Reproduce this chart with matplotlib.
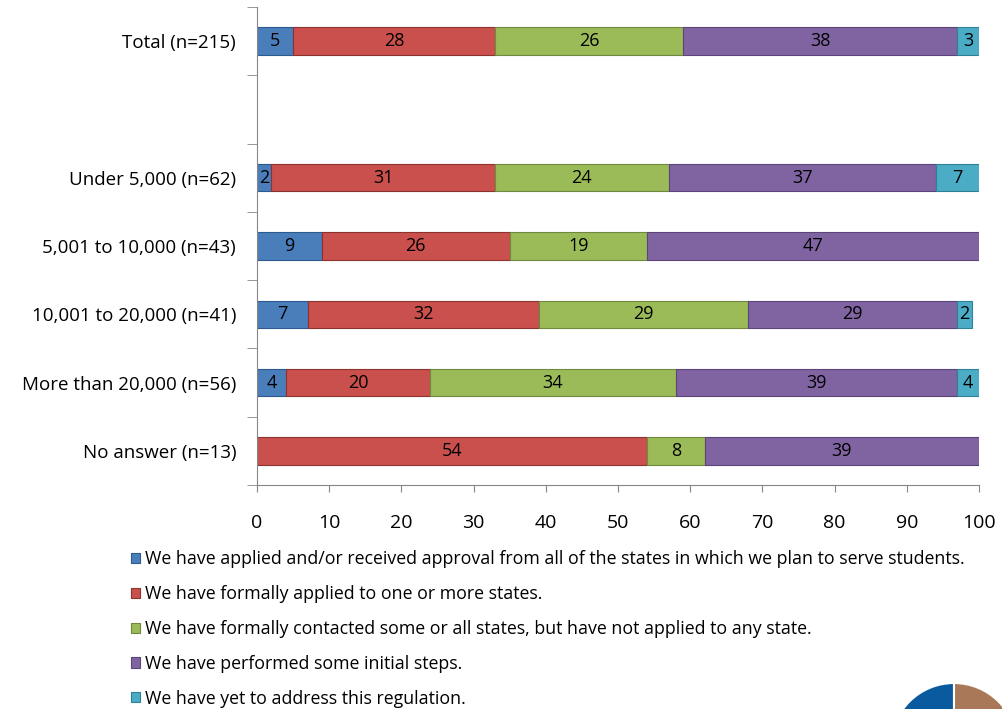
import numpy as np
import matplotlib.pyplot as plt
from matplotlib.patches import Wedge, Patch

plt.rcParams['font.family'] = ['Open Sans', 'DejaVu Sans']

categories = ['Total (n=215)', '', 'Under 5,000 (n=62)', '5,001 to 10,000 (n=43)',
              '10,001 to 20,000 (n=41)', 'More than 20,000 (n=56)', 'No answer (n=13)']
series_names = [
    'We have applied and/or received approval from all of the states in which we plan to serve students.',
    'We have formally applied to one or more states.',
    'We have formally contacted some or all states, but have not applied to any state.',
    'We have performed some initial steps.',
    'We have yet to address this regulation.',
]
applied_all = [5, 0, 2, 9, 7, 4, 0]
applied_some = [28, 0, 31, 26, 32, 20, 54]
contacted = [26, 0, 24, 19, 29, 34, 8]
initial = [38, 0, 37, 47, 29, 39, 39]
not_yet = [3, 0, 7, 0, 2, 4, 0]
series = [applied_all, applied_some, contacted, initial, not_yet]
colors = ['#4a7ebb', '#c9504d', '#9bbb59', '#8064a2', '#4bacc6']
edges = ['#2c5a8f', '#8c3330', '#71893e', '#5a447a', '#2f8198']

fig = plt.figure(figsize=(10.03, 7.09), dpi=100)
ax = fig.add_axes([257 / 1003, 1 - 485 / 709, 722 / 1003, 478 / 709])

y = np.arange(len(categories))
left = np.zeros(len(categories))
for vals, c, ec in zip(series, colors, edges):
    vals = np.array(vals, dtype=float)
    lw = [0.8 if v > 0 else 0 for v in vals]
    ax.barh(y, vals, left=left, height=0.4, color=c, edgecolor=ec, linewidth=lw)
    for yi, l, v in zip(y, left, vals):
        if v > 0:
            cx = (l + min(l + v, 100)) / 2
            ax.text(cx, yi, f'{int(v)}', ha='center', va='center',
                    fontsize=13, color='black')
    left += vals

ax.set_xlim(0, 100)
ax.set_ylim(len(categories) - 0.5, -0.5)
ax.set_xticks(np.arange(0, 101, 10))
ax.tick_params(axis='x', direction='out', length=5, color='#868686',
               labelsize=14, pad=16)
ax.set_yticks(y)
ax.set_yticklabels(categories, fontsize=13.5)
ax.set_yticks(np.arange(-0.5, len(categories), 1), minor=True)
ax.tick_params(axis='y', which='major', length=0, pad=15)
ax.tick_params(axis='y', which='minor', direction='out', length=7, color='#868686')
for s in ['top', 'right']:
    ax.spines[s].set_visible(False)
for s in ['left', 'bottom']:
    ax.spines[s].set_color('#868686')

handles = [Patch(facecolor=c, edgecolor=ec, linewidth=0.8) for c, ec in zip(colors, edges)]
fig.legend(handles, series_names, loc='upper left', bbox_to_anchor=(124 / 1003, 1 - 543 / 709),
           frameon=False, fontsize=12.8, handlelength=0.5, handleheight=0.5,
           handletextpad=0.3, labelspacing=0.95, borderaxespad=0)

# logo in the corner
lax = fig.add_axes([0, 0, 1, 1], facecolor='none')
lax.set_xlim(0, 1003)
lax.set_ylim(0, 709)
lax.axis('off')
lax.add_patch(Wedge((954, -37), 63, 90, 270, facecolor='#0a5aa0', edgecolor='white', linewidth=1.5))
lax.add_patch(Wedge((954, -37), 63, -90, 90, facecolor='#a87858', edgecolor='white', linewidth=1.5))

fig.savefig('out.png', dpi=100)
